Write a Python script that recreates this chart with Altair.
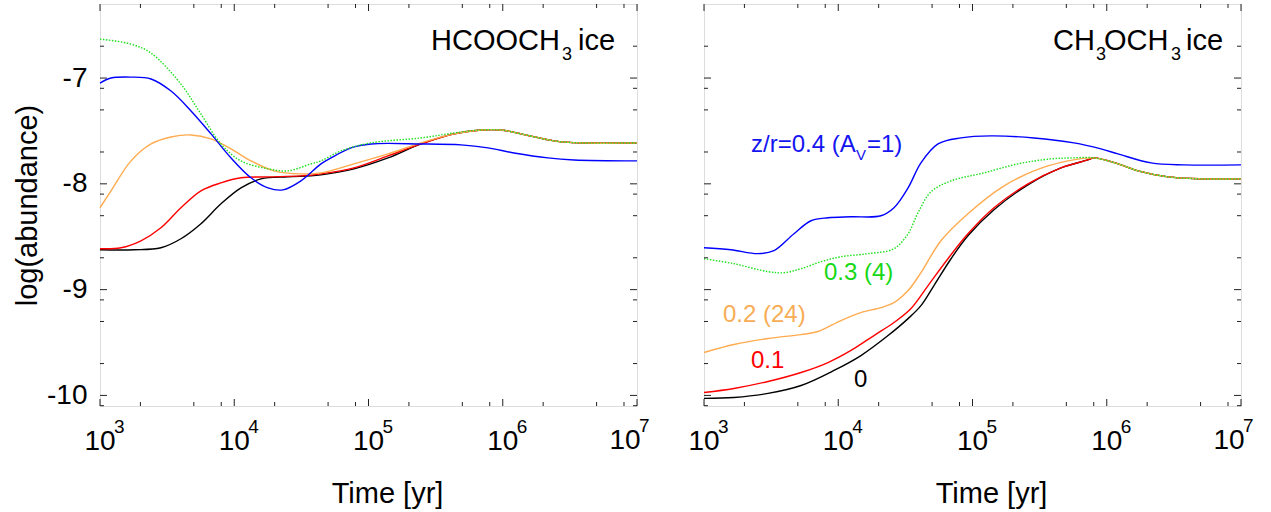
import altair as alt
import pandas as pd
import numpy as np

# ---------------- data (log10 time [yr], log abundance) ----------------
# Panel 1: HCOOCH3 ice
p1_black_logt = [3.0, 3.253, 3.454, 3.603, 3.752, 3.901, 4.050, 4.199, 4.400, 4.572, 4.646, 4.892, 5.145, 5.391, 5.637, 5.838, 5.987, 6.136, 6.382, 6.583, 7.0]
p1_black_val = [-8.623, -8.623, -8.604, -8.519, -8.377, -8.189, -8.038, -7.953, -7.934, -7.925, -7.915, -7.858, -7.755, -7.623, -7.528, -7.491, -7.491, -7.528, -7.594, -7.613, -7.613]

p1_red_logt = [3.0, 3.156, 3.305, 3.454, 3.603, 3.752, 3.901, 4.050, 4.251, 4.497, 4.646, 4.892, 5.145, 5.391, 5.637, 5.838, 5.987, 6.136, 6.382, 6.583, 7.0]
p1_red_val = [-8.613, -8.604, -8.538, -8.415, -8.226, -8.066, -7.991, -7.943, -7.934, -7.925, -7.906, -7.849, -7.736, -7.623, -7.528, -7.491, -7.491, -7.528, -7.594, -7.613, -7.613]

p1_orange_logt = [3.0, 3.082, 3.231, 3.380, 3.529, 3.678, 3.827, 3.976, 4.125, 4.296, 4.497, 4.646, 4.892, 5.145, 5.391, 5.637, 5.838, 5.987, 6.136, 6.382, 6.583, 7.0]
p1_orange_val = [-8.226, -8.066, -7.783, -7.623, -7.557, -7.538, -7.575, -7.670, -7.783, -7.877, -7.906, -7.896, -7.811, -7.717, -7.613, -7.528, -7.491, -7.491, -7.528, -7.594, -7.613, -7.613]

p1_blue_logt = [3.0, 3.082, 3.231, 3.380, 3.529, 3.678, 3.827, 3.976, 4.125, 4.251, 4.363, 4.497, 4.646, 4.721, 4.870, 5.019, 5.391, 5.689, 5.890, 6.084, 6.337, 6.531, 7.0]
p1_blue_val = [-7.047, -7.0, -6.991, -7.009, -7.123, -7.311, -7.528, -7.755, -7.943, -8.038, -8.057, -7.972, -7.811, -7.755, -7.660, -7.623, -7.623, -7.632, -7.660, -7.708, -7.755, -7.774, -7.783]

p1_green_logt = [3.0, 3.231, 3.380, 3.603, 3.752, 3.901, 4.050, 4.251, 4.400, 4.572, 4.646, 4.795, 5.019, 5.391, 5.637, 5.838, 5.987, 6.136, 6.382, 6.583, 7.0]
p1_green_val = [-6.632, -6.679, -6.764, -7.057, -7.340, -7.623, -7.783, -7.858, -7.877, -7.811, -7.783, -7.689, -7.613, -7.566, -7.519, -7.491, -7.491, -7.528, -7.594, -7.613, -7.613]

# Panel 2: CH3OCH3 ice
p2_black_logt = [3.0, 3.223, 3.477, 3.723, 3.968, 4.169, 4.371, 4.520, 4.616, 4.713, 4.840, 4.966, 5.160, 5.413, 5.659, 5.860, 5.905, 6.084, 6.233, 6.456, 6.702, 7.0]
p2_black_val = [-10.028, -10.019, -9.981, -9.906, -9.764, -9.623, -9.434, -9.274, -9.151, -8.962, -8.708, -8.491, -8.245, -8.009, -7.849, -7.774, -7.755, -7.811, -7.877, -7.934, -7.953, -7.953]

p2_red_logt = [3.0, 3.223, 3.477, 3.723, 3.924, 4.095, 4.266, 4.415, 4.542, 4.669, 4.817, 4.966, 5.160, 5.413, 5.659, 5.860, 5.905, 6.084, 6.233, 6.456, 6.702, 7.0]
p2_red_val = [-9.972, -9.934, -9.868, -9.783, -9.689, -9.575, -9.434, -9.311, -9.179, -8.962, -8.708, -8.472, -8.226, -8.0, -7.849, -7.774, -7.755, -7.811, -7.877, -7.934, -7.953, -7.953]

p2_orange_logt = [3.0, 3.223, 3.477, 3.723, 3.849, 4.020, 4.169, 4.318, 4.415, 4.520, 4.616, 4.765, 4.966, 5.212, 5.458, 5.711, 5.905, 6.084, 6.233, 6.456, 6.702, 7.0]
p2_orange_val = [-9.594, -9.519, -9.462, -9.425, -9.396, -9.292, -9.217, -9.170, -9.123, -9.009, -8.840, -8.538, -8.283, -8.038, -7.877, -7.783, -7.755, -7.811, -7.877, -7.934, -7.953, -7.953]

p2_blue_logt = [3.0, 3.201, 3.402, 3.521, 3.670, 3.797, 3.924, 4.095, 4.318, 4.415, 4.520, 4.616, 4.743, 4.914, 5.138, 5.458, 5.756, 5.957, 6.084, 6.330, 6.575, 7.0]
p2_blue_val = [-8.604, -8.623, -8.660, -8.632, -8.472, -8.349, -8.321, -8.311, -8.302, -8.226, -8.038, -7.802, -7.623, -7.566, -7.547, -7.566, -7.613, -7.670, -7.717, -7.802, -7.821, -7.821]

p2_green_logt = [3.0, 3.223, 3.477, 3.596, 3.723, 3.872, 4.020, 4.222, 4.415, 4.520, 4.594, 4.691, 4.840, 5.086, 5.339, 5.585, 5.734, 5.905, 6.084, 6.233, 6.456, 6.702, 7.0]
p2_green_val = [-8.708, -8.755, -8.830, -8.840, -8.802, -8.736, -8.689, -8.660, -8.613, -8.472, -8.274, -8.075, -7.972, -7.896, -7.811, -7.764, -7.755, -7.755, -7.811, -7.877, -7.934, -7.953, -7.953]

series_names = ["0", "0.1", "0.2", "0.4", "0.3"]
series_colors = ["#000000", "#ff0000", "#ffab4f", "#0000ff", "#1fe01f"]

x_major = [1e3, 1e4, 1e5, 1e6, 1e7]
x_exponents = ["3", "4", "5", "6", "7"]
y_major = [-7, -8, -9, -10]
minor_mult = [2, 5, 8]

W, H = 537, 402
XDOM = [1e3, 1e7]
YDOM = [-10.1, -6.3]
FONT = "Liberation Sans"
INTERP = "catmull-rom"


def lines_df(pairs):
    rows = []
    for name, lt, v in pairs:
        for a, b in zip(lt, v):
            rows.append({"s": name, "t": 10 ** a, "v": b})
    return pd.DataFrame(rows)


xt_major = pd.DataFrame({"t": x_major, "e": x_exponents})
xt_minor = pd.DataFrame({"t": [m * 10 ** d for d in range(3, 7) for m in minor_mult]})
yt_major = pd.DataFrame({"v": y_major})
yt_minor_vals = [e + np.log10(m) for e in range(-11, -5) for m in minor_mult]
yt_minor = pd.DataFrame({"v": [v for v in yt_minor_vals if YDOM[0] < v < YDOM[1] - 0.02]})

xscale = alt.Scale(type="log", domain=XDOM, nice=False)
yscale = alt.Scale(domain=YDOM, nice=False, zero=False)

x_axis = alt.Axis(title="Time [yr]", labels=False, ticks=False, domain=False, grid=False,
                  titleX=287, titleY=96, titleBaseline="alphabetic", titleAlign="center",
                  titleFontSize=29, titleFontWeight="normal", titleFont=FONT, titleColor="black")


def X():
    return alt.X("t:Q", scale=xscale, axis=x_axis)


def make_panel(pairs, show_y, texts):
    if show_y:
        y_axis = alt.Axis(title="log(abundance)", values=y_major, labelExpr="'-' + (-datum.value)",
                          ticks=False, domain=False, grid=False, labelPadding=13,
                          labelFontSize=28, labelFont=FONT, labelColor="black",
                          titleX=-64, titleY=201, titleAngle=270, titleBaseline="alphabetic",
                          titleAlign="center", titleFontSize=29, titleFontWeight="normal",
                          titleFont=FONT, titleColor="black")
    else:
        y_axis = None

    def Y():
        return alt.Y("v:Q", scale=yscale, axis=y_axis)

    solid = [p for p in pairs if p[0] != "0.3"]
    dotted = [p for p in pairs if p[0] == "0.3"]
    color = alt.Color("s:N", scale=alt.Scale(domain=series_names, range=series_colors), legend=None)

    layers = []
    layers.append(alt.Chart(lines_df(solid)).mark_line(strokeWidth=1.4, interpolate=INTERP).encode(
        x=X(), y=Y(), color=color, detail="s:N"))
    layers.append(alt.Chart(lines_df(dotted)).mark_line(strokeWidth=1.4, interpolate=INTERP,
                                                        strokeDash=[1.5, 1.5]).encode(
        x=X(), y=Y(), color=color))

    # inward ticks on all four sides
    for df, ln in [(xt_major, 7), (xt_minor, 4)]:
        layers.append(alt.Chart(df).mark_rule(color="#222", strokeWidth=1).encode(
            x=X(), y=alt.value(H), y2=alt.value(H - ln)))
        layers.append(alt.Chart(df).mark_rule(color="#222", strokeWidth=1).encode(
            x=X(), y=alt.value(0), y2=alt.value(ln)))
    for df, ln in [(yt_major, 7), (yt_minor, 4)]:
        layers.append(alt.Chart(df).mark_rule(color="#222", strokeWidth=1).encode(
            y=Y(), x=alt.value(0), x2=alt.value(ln)))
        layers.append(alt.Chart(df).mark_rule(color="#222", strokeWidth=1).encode(
            y=Y(), x=alt.value(W), x2=alt.value(W - ln)))

    # x tick labels 10^n
    inner = alt.Chart(xt_major).transform_filter(alt.datum.t < 5e6)
    last = alt.Chart(xt_major).transform_filter(alt.datum.t > 5e6)
    layers.append(inner.mark_text(text="10", fontSize=28, font=FONT, align="center",
                                  baseline="alphabetic", color="black").encode(x=X(), y=alt.value(H + 44)))
    layers.append(inner.mark_text(fontSize=19, font=FONT, align="left", dx=14,
                                  baseline="alphabetic", color="black").encode(
        x=X(), y=alt.value(H + 27), text="e:N"))
    layers.append(last.mark_text(text="10", fontSize=28, font=FONT, align="center", dx=-12,
                                 baseline="alphabetic", color="black").encode(x=X(), y=alt.value(H + 43)))
    layers.append(last.mark_text(fontSize=19, font=FONT, align="left", dx=2,
                                 baseline="alphabetic", color="black").encode(
        x=X(), y=alt.value(H + 26), text="e:N"))

    one = alt.Data(values=[{}])
    for txt, px, py, size, col in texts:
        layers.append(alt.Chart(one).mark_text(text=txt, fontSize=size, font=FONT, align="left",
                                               baseline="alphabetic", color=col).encode(
            x=alt.value(px), y=alt.value(py)))

    return alt.layer(*layers).properties(width=W, height=H)


p1_pairs = [("0", p1_black_logt, p1_black_val), ("0.1", p1_red_logt, p1_red_val),
            ("0.2", p1_orange_logt, p1_orange_val), ("0.4", p1_blue_logt, p1_blue_val),
            ("0.3", p1_green_logt, p1_green_val)]
p2_pairs = [("0", p2_black_logt, p2_black_val), ("0.1", p2_red_logt, p2_red_val),
            ("0.2", p2_orange_logt, p2_orange_val), ("0.4", p2_blue_logt, p2_blue_val),
            ("0.3", p2_green_logt, p2_green_val)]

p1_texts = [("HCOOCH", 331, 46, 29, "black"), ("3", 462, 56, 18, "black"), ("ice", 478, 46, 29, "black")]
p2_texts = [("CH", 349, 46, 29, "black"), ("3", 392, 56, 18, "black"), ("OCH", 400, 46, 29, "black"),
            ("3", 467, 56, 18, "black"), ("ice", 482, 46, 29, "black"),
            ("z/r=0.4 (A", 47, 148, 24, "#1414f0"), ("V", 152, 156, 15, "#1414f0"),
            ("=1)", 163, 148, 24, "#1414f0"),
            ("0.3 (4)", 120, 276, 24, "#16d816"),
            ("0.2 (24)", 19, 318, 24, "#f7ad55"),
            ("0.1", 47, 364, 24, "#ff0000"),
            ("0", 150, 383, 24, "black")]

left = make_panel(p1_pairs, True, p1_texts)
right = make_panel(p2_pairs, False, p2_texts)

chart = alt.hconcat(left, right, spacing=67, bounds="flush").properties(
    padding={"left": 12, "top": 3, "right": 0, "bottom": 0}
).configure_view(stroke="black", strokeWidth=1.5).configure(background="white")

chart.save("out.html", embed_options={"renderer": "svg", "actions": False})
